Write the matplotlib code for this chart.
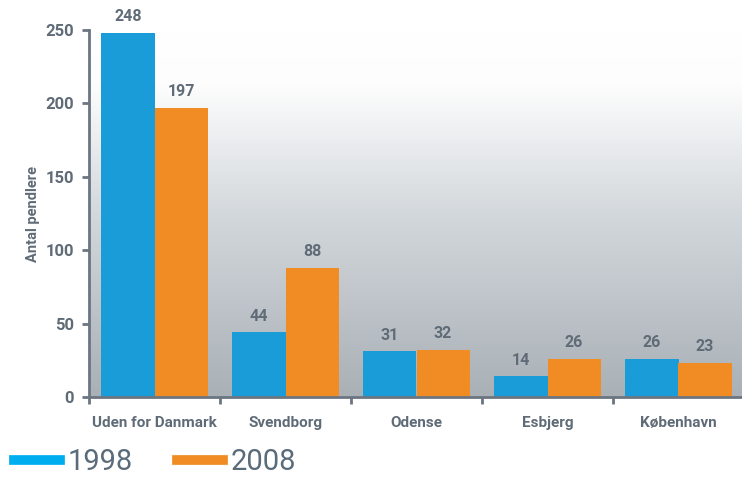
import numpy as np
import matplotlib
matplotlib.use("Agg")
import matplotlib.pyplot as plt
from matplotlib.lines import Line2D
from matplotlib.colors import LinearSegmentedColormap

categories = ["Uden for Danmark", "Svendborg", "Odense", "Esbjerg", "København"]
values_1998 = [248, 44, 31, 14, 26]
values_2008 = [197, 88, 32, 26, 23]
series_names = ["1998", "2008"]

blue = "#1a9cd8"
orange = "#f08c23"
legend_blue = "#00aeef"
text_col = "#5f6b77"
spine_col = "#6b7681"

plt.rcParams["font.family"] = ["Roboto", "DejaVu Sans"]

fig = plt.figure(figsize=(7.42, 4.79), dpi=100)
ax = fig.add_axes([89 / 742, 82 / 479, 655 / 742, 367 / 479])

# gradient background
grad = LinearSegmentedColormap.from_list("bg", [(0, "#a9b0b6"), (0.5, "#d3d8dc"), (0.85, "#fdfdfd"), (1, "#ffffff")])
g = np.linspace(0, 1, 256).reshape(-1, 1)
ax.imshow(g, cmap=grad, origin="lower", aspect="auto", extent=(-0.5, 4.5, 0, 250), zorder=0)

x = np.arange(len(categories))
w = 0.405
b1 = ax.bar(x - w / 2, values_1998, w, color=blue, zorder=2)
b2 = ax.bar(x + w / 2, values_2008, w, color=orange, zorder=2)

for bars, vals in ((b1, values_1998), (b2, values_2008)):
    for rect, v in zip(bars, vals):
        ax.text(rect.get_x() + rect.get_width() / 2, v + 6, str(v), ha="center", va="bottom",
                fontsize=11.5, fontweight="bold", color=text_col, clip_on=False)

ax.set_xlim(-0.5, 4.5)
ax.set_ylim(0, 250)
ax.set_yticks(range(0, 251, 50))
ax.set_xticks(np.arange(-0.5, 4.6, 1))
ax.set_xticklabels([])
ax.set_xticks(x, minor=True)
ax.set_xticklabels(categories, minor=True)
ax.tick_params(axis="x", which="minor", length=0, pad=14, labelsize=11, labelcolor=text_col)
ax.tick_params(axis="x", which="major", length=5, width=2, color=spine_col, direction="out")
ax.tick_params(axis="y", length=5, width=2, color=spine_col, labelsize=12, labelcolor=text_col, pad=6)
for lab in ax.get_xticklabels(minor=True) + ax.get_yticklabels():
    lab.set_fontweight("bold")

for s in ["top", "right"]:
    ax.spines[s].set_visible(False)
for s in ["left", "bottom"]:
    ax.spines[s].set_color(spine_col)
    ax.spines[s].set_linewidth(2)
    ax.spines[s].set_zorder(3)

ax.set_ylabel("Antal pendlere", fontsize=10.5, fontweight="bold", color=text_col, labelpad=4)

handles = [Line2D([0], [0], color=legend_blue, lw=7), Line2D([0], [0], color=orange, lw=7)]
fig.legend(handles, series_names, loc="lower left", bbox_to_anchor=(-0.005, -0.03), ncol=2, frameon=False,
           fontsize=21, labelcolor="#5a6b7a", handlelength=1.6, handletextpad=0.25, columnspacing=1.5,
           borderaxespad=0.2)

fig.savefig("out.png", dpi=100)
